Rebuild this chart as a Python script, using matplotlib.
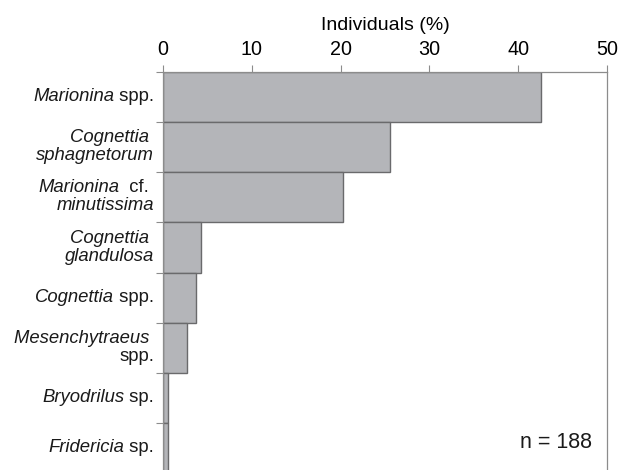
import matplotlib
matplotlib.use("Agg")
import matplotlib.pyplot as plt
from matplotlib.transforms import offset_copy
import numpy as np

plt.rcParams['font.family'] = 'Liberation Sans'

# Enchytraeid taxa, most to least abundant.
# Each label is a list of lines, each line a list of (text, italic) pieces.
taxa = [
    [[('Marionina', True), (' spp.', False)]],
    [[('Cognettia ', True)], [('sphagnetorum', True)]],
    [[('Marionina', True), ('  cf. ', False)], [('minutissima', True)]],
    [[('Cognettia ', True)], [('glandulosa', True)]],
    [[('Cognettia', True), (' spp.', False)]],
    [[('Mesenchytraeus ', True)], [('spp.', False)]],
    [[('Bryodrilus', True), (' sp.', False)]],
    [[('Fridericia', True), (' sp.', False)]],
]
counts = [80, 48, 38, 8, 7, 5, 1, 1]
n_total = sum(counts)
percent = [100.0 * c / n_total for c in counts]

fig = plt.figure(figsize=(6.18, 4.70), dpi=100)
ax = fig.add_axes([0.264, -0.007, 0.718, 0.854])

pos = np.arange(len(taxa))
ax.barh(pos, percent, height=1.0, color='#b4b5b9', edgecolor='#6a6a6c', linewidth=1.0)

ax.set_xlim(0, 50)
ax.set_ylim(len(taxa) - 0.5, -0.5)

ax.xaxis.tick_top()
ax.xaxis.set_label_position('top')
ax.set_xticks([0, 10, 20, 30, 40, 50])
ax.tick_params(axis='x', direction='out', length=5, width=0.8, color='#8c8c8c',
               labelsize=14.2, pad=4.5)
ax.set_xlabel('Individuals (%)', fontsize=14)
ax.xaxis.set_label_coords(0.5, 1.104)
ax.xaxis.label.set_va('baseline')

# ticks sit between the categories
ax.set_yticks(np.arange(len(taxa) + 1) - 0.5)
ax.set_yticklabels([])
ax.tick_params(axis='y', direction='out', length=5, width=0.8, color='#8c8c8c')

for side in ['top', 'right', 'left']:
    ax.spines[side].set_color('#8c8c8c')
    ax.spines[side].set_linewidth(0.9)
ax.spines['bottom'].set_visible(False)

# category labels, mixing italic genus names with roman text
renderer = fig.canvas.get_renderer()
ytrans = ax.get_yaxis_transform()
label_size = 13.3
line_step = 18   # pixels between baselines
for i, lines in enumerate(taxa):
    nl = len(lines)
    for k, line in enumerate(lines):
        dy = -(4 + (k - (nl - 1) / 2.0) * line_step)
        x_off = -9
        for piece, italic in reversed(line):
            tr = offset_copy(ytrans, fig=fig, x=x_off, y=dy, units='dots')
            t = ax.text(0, pos[i], piece, transform=tr, ha='right', va='baseline',
                        fontsize=label_size, style='italic' if italic else 'normal',
                        color='#1a1a1a')
            x_off -= t.get_window_extent(renderer).width

fig.text(0.958, 1 - 448 / 470.0, 'n = %d' % n_total, fontsize=15.5,
         ha='right', va='baseline', color='#1a1a1a')

fig.savefig('out.png', dpi=100)
